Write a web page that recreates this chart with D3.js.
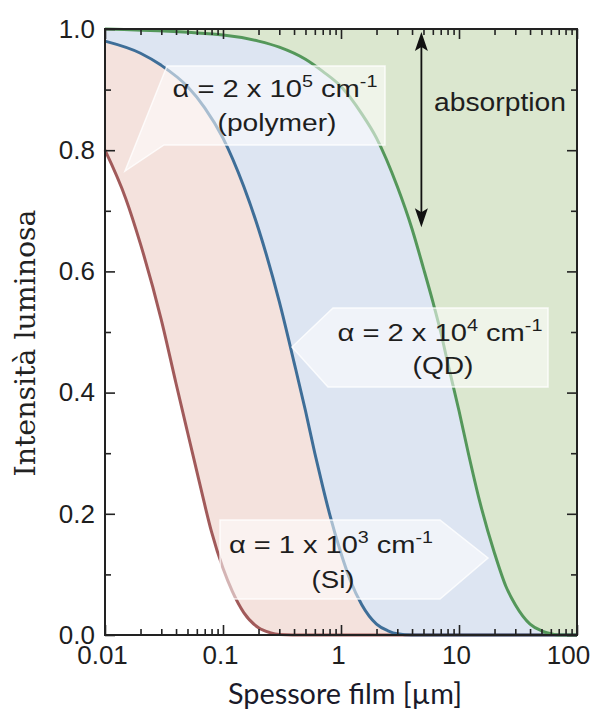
<!DOCTYPE html>
<html>
<head>
<meta charset="utf-8">
<script src="https://cdn.jsdelivr.net/npm/d3@7"></script>
<style>
  body { margin: 0; background: #fff; }
  svg { display: block; }
</style>
</head>
<body>
<svg id="chart" width="605" height="713"></svg>
<script>
// film thickness (um) and transmitted intensity
var polymerX = [0.01, 0.015, 0.02, 0.03, 0.04, 0.05, 0.06, 0.07, 0.08, 0.1, 0.12, 0.15, 0.2, 0.25, 0.3, 0.5, 100];
var polymerY = [0.80, 0.72, 0.645, 0.52, 0.415, 0.335, 0.27, 0.215, 0.17, 0.11, 0.072, 0.037, 0.012, 0.004, 0.001, 0, 0];

var qdX = [0.01, 0.02, 0.03, 0.05, 0.07, 0.1, 0.15, 0.2, 0.3, 0.4, 0.5, 0.6, 0.7, 0.8, 1, 1.2, 1.5, 2, 2.5, 3, 4, 100];
var qdY = [0.98, 0.96, 0.94, 0.905, 0.87, 0.82, 0.74, 0.67, 0.55, 0.45, 0.37, 0.30, 0.245, 0.20, 0.135, 0.09, 0.05, 0.018, 0.007, 0.002, 0, 0];

var siX = [0.01, 0.1, 0.2, 0.3, 0.5, 0.7, 1, 1.5, 2, 3, 4, 5, 6, 7, 8, 10, 12, 15, 20, 25, 30, 40, 50, 60, 70, 100];
var siY = [1.0, 0.99, 0.98, 0.97, 0.95, 0.93, 0.905, 0.86, 0.82, 0.74, 0.67, 0.605, 0.55, 0.50, 0.45, 0.37, 0.30, 0.22, 0.135, 0.08, 0.05, 0.018, 0.007, 0.002, 0, 0];

var xTickValues = [0.01, 0.1, 1, 10, 100];
var xTickLabels = ["0.01", "0.1", "1", "10", "100"];
var yTickValues = [0, 0.2, 0.4, 0.6, 0.8, 1.0];
var yMinorValues = [0.1, 0.3, 0.5, 0.7, 0.9];

var svg = d3.select("#chart");
var plot = { left: 105, right: 577, top: 29, bottom: 635 };

var x = d3.scaleLog().domain([0.01, 100]).range([plot.left, plot.right]);
var y = d3.scaleLinear().domain([0, 1]).range([plot.bottom, plot.top]);

function pts(xs, ys) {
  return xs.map(function(v, i) { return { x: v, y: ys[i] }; });
}

var series = [
  { name: "polymer", data: pts(polymerX, polymerY), fill: "#f4e2dd", stroke: "#a15a5a" },
  { name: "qd", data: pts(qdX, qdY), fill: "#dde5f2", stroke: "#3e6e98" },
  { name: "si", data: pts(siX, siY), fill: "#dbe7cf", stroke: "#54975a" }
];

var area = d3.area()
  .x(function(d) { return x(d.x); })
  .y0(function(d) { return y(d.y); })
  .y1(y(1))
  .curve(d3.curveMonotoneX);

var line = d3.line()
  .x(function(d) { return x(d.x); })
  .y(function(d) { return y(d.y); })
  .curve(d3.curveMonotoneX);

// fills: each one from its curve up to 1, later ones on top
svg.append("g").selectAll("path")
  .data(series)
  .enter().append("path")
    .attr("d", function(d) { return area(d.data); })
    .attr("fill", function(d) { return d.fill; });

svg.append("g").selectAll("path")
  .data(series)
  .enter().append("path")
    .attr("d", function(d) { return line(d.data); })
    .attr("fill", "none")
    .attr("stroke", function(d) { return d.stroke; })
    .attr("stroke-width", 3);

// callout boxes
var callouts = [
  [[167, 66], [385, 66], [385, 145], [164, 145], [125, 171]],
  [[333, 308], [548, 308], [548, 387], [328, 387], [292, 347]],
  [[220, 520], [440, 520], [488, 558], [440, 599], [220, 599]]
];
svg.append("g").selectAll("polygon")
  .data(callouts)
  .enter().append("polygon")
    .attr("points", function(d) { return d.join(" "); })
    .attr("fill", "#fff")
    .attr("fill-opacity", 0.55)
    .attr("stroke", "#fff")
    .attr("stroke-opacity", 0.8)
    .attr("stroke-width", 1.5);

function stretchedText(parts, cx, base, width, size) {
  var t = svg.append("text")
    .attr("text-anchor", "middle")
    .style("font-family", "'Liberation Sans', Arial, sans-serif")
    .style("font-size", size + "px")
    .attr("fill", "#1e1e1e");
  var shift = 0;
  parts.forEach(function(p) {
    if (typeof p === "string") {
      t.append("tspan").text(p).attr("dy", -shift);
      shift = 0;
    } else {
      var s = size * 0.42;
      t.append("tspan").text(p.sup)
        .style("font-size", (size * 0.68) + "px")
        .attr("dy", -s);
      shift = -s;
    }
  });
  var w = t.node().getBBox().width;
  t.attr("transform", "translate(" + cx + "," + base + ") scale(" + (width / w) + ",1)");
  return t;
}

stretchedText(["\u03b1 = 2 x 10", { sup: "5" }, " cm", { sup: "-1" }], 275, 97, 205, 24);
stretchedText(["(polymer)"], 277, 131, 119, 24);
stretchedText(["\u03b1 = 2 x 10", { sup: "4" }, " cm", { sup: "-1" }], 440, 341, 205, 24);
stretchedText(["(QD)"], 443, 374, 61, 24);
stretchedText(["\u03b1 = 1 x 10", { sup: "3" }, " cm", { sup: "-1" }], 331, 553, 204, 24);
stretchedText(["(Si)"], 333, 588, 43, 24);
stretchedText(["absorption"], 500, 111, 132, 26);

// absorption arrow
var arrowX = x(4.8), arrowTop = y(0.995), arrowBottom = y(0.673);
svg.append("line")
  .attr("x1", arrowX).attr("x2", arrowX)
  .attr("y1", arrowTop + 10).attr("y2", arrowBottom - 10)
  .attr("stroke", "#111").attr("stroke-width", 1.8);
svg.append("path")
  .attr("d", "M" + arrowX + "," + arrowTop + "l-6.5,19 l6.5,-4 l6.5,4z")
  .attr("fill", "#111");
svg.append("path")
  .attr("d", "M" + arrowX + "," + arrowBottom + "l-6.5,-19 l6.5,4 l6.5,-4z")
  .attr("fill", "#111");

// axes
var minorX = x.ticks().filter(function(v) { return xTickValues.indexOf(v) < 0; });

function styleAxis(g) {
  g.select(".domain").remove();
  g.selectAll("line").attr("stroke", "#222").attr("stroke-width", 1.6);
  g.selectAll("text")
    .attr("fill", "#1e1e1e")
    .style("font-family", "'Liberation Sans', Arial, sans-serif")
    .style("font-size", "26px");
}

svg.append("g")
  .attr("transform", "translate(0," + plot.bottom + ")")
  .call(d3.axisBottom(x).tickValues(xTickValues).tickSize(-10).tickPadding(11)
    .tickFormat(function(d, i) { return xTickLabels[i]; }))
  .call(styleAxis)
  .call(function(g) {
    g.selectAll("text").attr("dx", -3);
    g.selectAll("text").filter(function(d) { return d === 100; }).attr("dx", -9);
  });
svg.append("g")
  .attr("transform", "translate(0," + plot.bottom + ")")
  .call(d3.axisBottom(x).tickValues(minorX).tickSize(-6).tickFormat(""))
  .call(styleAxis);
svg.append("g")
  .attr("transform", "translate(0," + plot.top + ")")
  .call(d3.axisTop(x).tickValues(xTickValues).tickSize(-10).tickFormat(""))
  .call(styleAxis);
svg.append("g")
  .attr("transform", "translate(0," + plot.top + ")")
  .call(d3.axisTop(x).tickValues(minorX).tickSize(-6).tickFormat(""))
  .call(styleAxis);

svg.append("g")
  .attr("transform", "translate(" + plot.left + ",0)")
  .call(d3.axisLeft(y).tickValues(yTickValues).tickSize(-10).tickPadding(10).tickFormat(d3.format(".1f")))
  .call(styleAxis);
svg.append("g")
  .attr("transform", "translate(" + plot.left + ",0)")
  .call(d3.axisLeft(y).tickValues(yMinorValues).tickSize(-6).tickFormat(""))
  .call(styleAxis);
svg.append("g")
  .attr("transform", "translate(" + plot.right + ",0)")
  .call(d3.axisRight(y).tickValues(yTickValues).tickSize(-10).tickFormat(""))
  .call(styleAxis);
svg.append("g")
  .attr("transform", "translate(" + plot.right + ",0)")
  .call(d3.axisRight(y).tickValues(yMinorValues).tickSize(-6).tickFormat(""))
  .call(styleAxis);

svg.append("rect")
  .attr("x", plot.left).attr("y", plot.top)
  .attr("width", plot.right - plot.left).attr("height", plot.bottom - plot.top)
  .attr("fill", "none")
  .attr("stroke", "#222")
  .attr("stroke-width", 2);

// axis titles
svg.append("text")
  .attr("transform", "translate(35,343) rotate(-90)")
  .attr("text-anchor", "middle")
  .attr("textLength", 267)
  .attr("lengthAdjust", "spacingAndGlyphs")
  .style("font-family", "'DejaVu Serif', serif")
  .style("font-size", "27px")
  .attr("fill", "#222")
  .text("Intensità luminosa");

svg.append("text")
  .attr("x", 345).attr("y", 704)
  .attr("text-anchor", "middle")
  .attr("textLength", 234)
  .attr("lengthAdjust", "spacingAndGlyphs")
  .style("font-family", "Lato, 'Open Sans', sans-serif")
  .style("font-size", "29px")
  .attr("fill", "#1a1a2a")
  .text("Spessore film [\u00b5m]");
</script>
</body>
</html>
